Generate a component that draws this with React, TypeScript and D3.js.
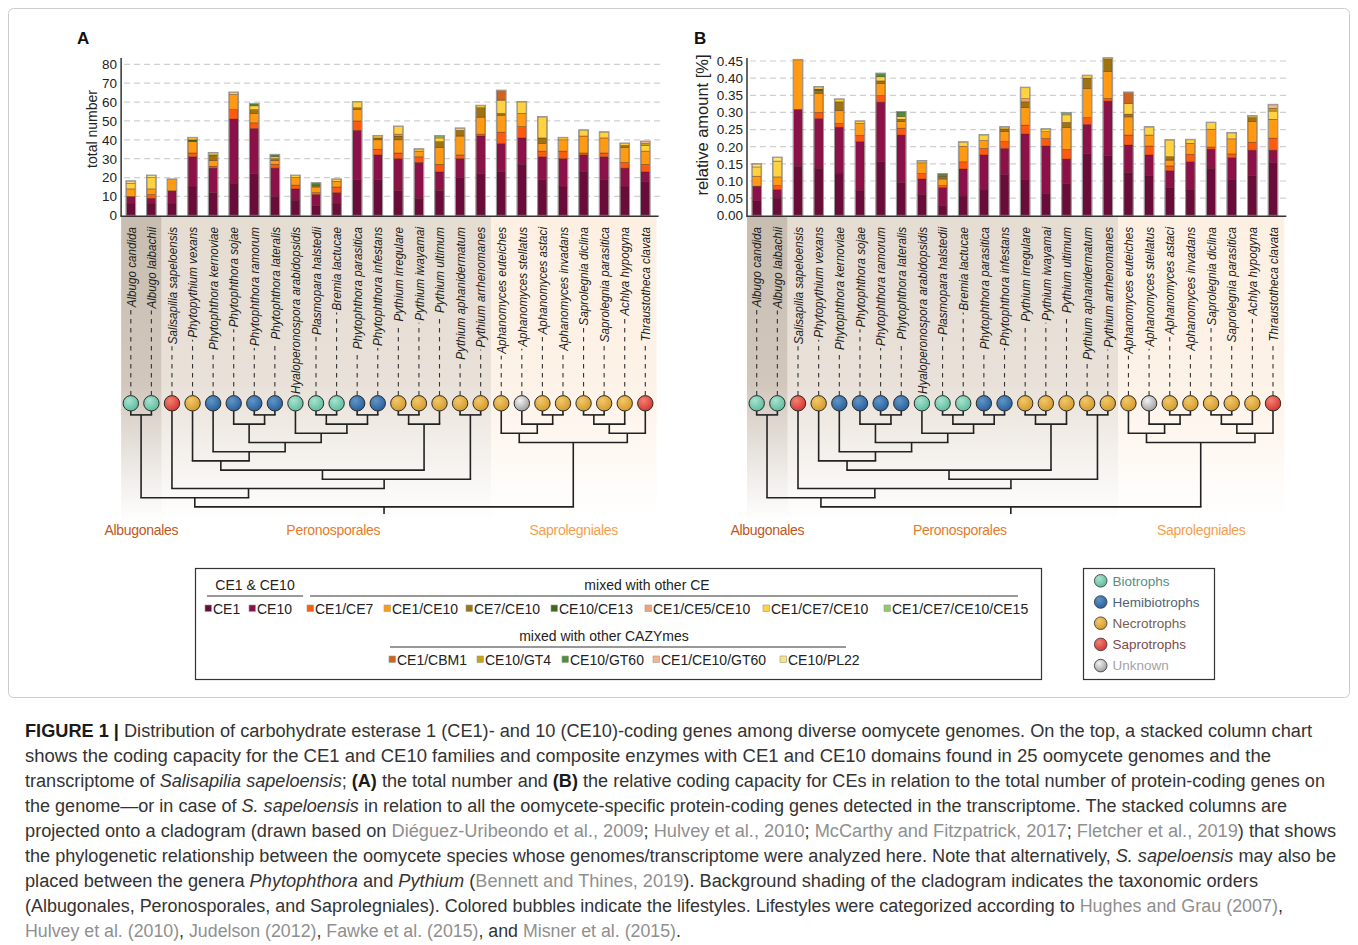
import React, { useEffect, useRef } from "react";
import * as d3 from "d3";

// ---------------- DATA ----------------
const SPECIES = [
  "Albugo candida", "Albugo laibachii", "Salisapilia sapeloensis", "Phytopythium vexans",
  "Phytophthora kernoviae", "Phytophthora sojae", "Phytophthora ramorum", "Phytophthora lateralis",
  "Hyaloperonospora arabidopsidis", "Plasmopara halstedii", "Bremia lactucae", "Phytophthora parasitica",
  "Phytophthora infestans", "Pythium irregulare", "Pythium iwayamai", "Pythium ultimum",
  "Pythium aphanidermatum", "Pythium arrhenomanes", "Aphanomyces euteiches", "Aphanomyces stellatus",
  "Aphanomyces astaci", "Aphanomyces invadans", "Saprolegnia diclina", "Saprolegnia parasitica",
  "Achlya hypogyna", "Thraustotheca clavata",
];
// B biotroph, H hemibiotroph, N necrotroph, S saprotroph, U unknown
const LIFESTYLE = ["B","B","S","N","H","H","H","H","B","B","B","H","H","N","N","N","N","N","N","U","N","N","N","N","N","S"];
const ORDER_NAMES = ["Albugonales", "Peronosporales", "Saprolegniales"];
const ORDER_SIZES = [2, 16, 8];

const KEYS = ["CE1","CE10","CE1/CE7","CE1/CE10","CE7/CE10","CE10/CE13","CE1/CE5/CE10","CE1/CE7/CE10","CE1/CE7/CE10/CE15","CE1/CBM1","CE10/GT4","CE10/GT60","CE1/CE10/GT60","CE10/PL22"];

// Panel A: total number
const A_CE1 = [6,6,6,15,12,17,22,10,8,5,6,19,19,13,9,13,20,22,23,27,19,15,23,19,15,18];
const A_CE10 = [4,3,7,16,13,34,24,15,6,6,6,26,13,17,19,10,10,20,15,14,12,15,9,12,10,5];
const A_CE1_CE7 = [0,2,0,2,1,5,3,2,2,1,3,5,3,3,3,4,2,1,6,6,3,4,1,2,3,4];
const A_CE1_CE10 = [4,3,6,6,3,8,5,2,4,3,3,6,5,7,3,9,10,9,9,7,4,6,9,8,8,7];
const A_CE7_CE10 = [0,0,0,0,3,0,2,1,0,1,0,1,1,2,0,3,3,5,1,0,3,0,0,0,1,0];
const A_CE10_CE13 = [0,0,0,1,0,0,0,0,0,0,0,0,0,0,0,0,0,0,0,0,0,0,0,0,0,0];
const A_CE1_CE5_CE10 = [0,0,0,0,0,0,0,0,0,0,0,0,0,1,0,0,0,0,0,0,0,0,0,0,0,0];
const A_CE1_CE7_CE10 = [3,6,0,1,1,1,2,1,1,0,1,3,1,4,1,2,1,1,7,6,11,1,3,3,1,3];
const A_CE1_CE7_CE10_CE15 = [0,0,0,0,0,0,0,0,0,0,0,0,0,0,0,1,0,0,0,0,0,0,0,0,0,0];
const A_CE1_CBM1 = [0,0,0,0,0,0,0,0,0,0,0,0,0,0,0,0,0,0,5,0,0,0,0,0,0,0];
const A_CE10_GT4 = [0,0,0,0,0,0,0,0,0,0,0,0,0,0,0,0,0,0,0,0,0,0,0,0,0,1];
const A_CE10_GT60 = [0,0,0,0,0,0,1,1,0,1,0,0,0,0,0,0,0,0,0,0,0,0,0,0,0,0];
const A_CE1_CE10_GT60 = [0,0,0,0,0,0,0,0,0,0,0,0,0,0,0,0,0,0,0,0,0,0,0,0,0,1];
const A_CE10_PL22 = [1,1,0,0,0,0,0,0,0,0,0,0,0,0,0,0,0,0,0,0,0,0,0,0,0,0];

// Panel B: relative amount [%]
const B_CE1 = [.042,.050,.143,.137,.123,.071,.156,.095,.061,.029,.056,.076,.118,.105,.064,.093,.180,.174,.124,.115,.080,.074,.137,.105,.115,.153];
const B_CE10 = [.043,.025,.166,.145,.134,.144,.174,.139,.045,.052,.079,.100,.077,.132,.138,.071,.085,.159,.081,.061,.050,.082,.056,.063,.075,.037];
const B_CE1_CE7 = [0,.012,0,.018,.011,.018,.019,.020,.016,.006,.021,.019,.020,.026,.022,.028,.020,.008,.029,.026,.014,.022,.006,.011,.023,.035];
const B_CE1_CE10 = [.029,.025,.144,.056,.037,.035,.035,.019,.031,.019,.045,.023,.029,.051,.020,.064,.085,.078,.053,.032,.017,.032,.052,.044,.060,.055];
const B_CE7_CE10 = [0,0,0,.008,.026,0,.008,.007,0,.007,0,0,.008,.017,0,.015,.030,.036,.008,0,.010,0,0,0,.012,0];
const B_CE10_CE13 = [0,0,0,.004,0,0,0,0,0,0,0,0,0,0,0,0,0,0,0,0,0,0,0,0,0,0];
const B_CE1_CE5_CE10 = [0,0,0,0,0,0,0,0,0,0,0,0,0,.009,0,0,0,0,0,0,0,0,0,0,0,0];
const B_CE1_CE7_CE10 = [.027,.046,0,.006,.007,.006,.012,.008,.005,0,.012,.016,.005,.032,.007,.022,.007,.003,.031,.023,.048,.010,.019,.017,.004,.024];
const B_CE1_CE7_CE10_CE15 = [0,0,0,0,0,0,0,0,0,0,0,0,0,0,0,.005,0,0,0,0,0,0,0,0,0,0];
const B_CE1_CBM1 = [0,0,0,0,0,0,0,0,0,0,0,0,0,0,0,0,0,0,.032,0,0,0,0,0,0,0];
const B_CE10_GT4 = [0,0,0,0,0,0,0,0,0,0,0,0,0,0,0,0,0,0,0,0,0,0,0,0,0,.008];
const B_CE10_GT60 = [0,0,0,0,0,0,.009,.013,0,.007,0,0,0,0,0,0,0,0,0,0,0,0,0,0,0,0];
const B_CE1_CE10_GT60 = [0,0,0,0,0,0,0,0,0,0,0,0,0,0,0,0,0,0,0,0,0,0,0,0,0,.010];
const B_CE10_PL22 = [.008,.010,0,0,0,0,0,0,0,0,0,0,0,0,0,0,0,0,0,0,0,0,0,0,0,0];

const A_TICKS = [0,10,20,30,40,50,60,70,80];
const B_TICKS = [0,0.05,0.10,0.15,0.20,0.25,0.30,0.35,0.40,0.45];

const LEGEND_CE = ["CE1","CE10"];
const LEGEND_MIXED = ["CE1/CE7","CE1/CE10","CE7/CE10","CE10/CE13","CE1/CE5/CE10","CE1/CE7/CE10","CE1/CE7/CE10/CE15"];
const LEGEND_CAZY = ["CE1/CBM1","CE10/GT4","CE10/GT60","CE1/CE10/GT60","CE10/PL22"];
const LIFESTYLE_NAMES = [["B","Biotrophs"],["H","Hemibiotrophs"],["N","Necrotrophs"],["S","Saprotrophs"],["U","Unknown"]];

// cladogram topology (leaf indices, node level, optional fixed position in leaf units)
const TREE: any = { level: 11, children: [
  { level: 10, children: [
    { level: 1, children: [0, 1] },
    { level: 9, at: 5.72, children: [2, { level: 8, at: 12.31, children: [
      { level: 7, children: [
        { level: 6, children: [3, { level: 5, children: [4, { level: 4, children: [
          { level: 2, children: [5, { level: 1, children: [6, 7] }] },
          { level: 3, children: [8, { level: 2, children: [{ level: 1, children: [9, 10] }, { level: 1, children: [11, 12] }] }] },
        ] }] }] },
        { level: 2, children: [{ level: 1, children: [13, 14] }, 15] },
      ] },
      { level: 1, children: [16, 17] },
    ] }] },
  ] },
  { level: 4, children: [
    { level: 3, children: [18, { level: 2, children: [19, { level: 1, children: [20, 21] }] }] },
    { level: 3, children: [{ level: 2, children: [{ level: 1, children: [22, 23] }, 24] }, 25] },
  ] },
] };

const CAPTION: [string, string][][] = [
  [["FIGURE 1 | ","b"],["Distribution of carbohydrate esterase 1 (CE1)- and 10 (CE10)-coding genes among diverse oomycete genomes. On the top, a stacked column chart",""]],
  [["shows the coding capacity for the CE1 and CE10 families and composite enzymes with CE1 and CE10 domains found in 25 oomycete genomes and the",""]],
  [["transcriptome of ",""],["Salisapilia sapeloensis","i"],["; ",""],["(A)","b"],[" the total number and ",""],["(B)","b"],[" the relative coding capacity for CEs in relation to the total number of protein-coding genes on",""]],
  [["the genome\u2014or in case of ",""],["S. sapeloensis","i"],[" in relation to all the oomycete-specific protein-coding genes detected in the transcriptome. The stacked columns are",""]],
  [["projected onto a cladogram (drawn based on ",""],["Di\u00e9guez-Uribeondo et al., 2009","l"],["; ",""],["Hulvey et al., 2010","l"],["; ",""],["McCarthy and Fitzpatrick, 2017","l"],["; ",""],["Fletcher et al., 2019","l"],[") that shows",""]],
  [["the phylogenetic relationship between the oomycete species whose genomes/transcriptome were analyzed here. Note that alternatively, ",""],["S. sapeloensis","i"],[" may also be",""]],
  [["placed between the genera ",""],["Phytophthora","i"],[" and ",""],["Pythium","i"],[" (",""],["Bennett and Thines, 2019","l"],["). Background shading of the cladogram indicates the taxonomic orders",""]],
  [["(Albugonales, Peronosporales, and Saprolegniales). Colored bubbles indicate the lifestyles. Lifestyles were categorized according to ",""],["Hughes and Grau (2007)","l"],[",",""]],
  [["Hulvey et al. (2010)","l"],[", ",""],["Judelson (2012)","l"],[", ",""],["Fawke et al. (2015)","l"],[", and ",""],["Misner et al. (2015)","l"],[".",""]],
];

// ---------------- STYLE ----------------
const COLORS: Record<string, string> = {
  "CE1": "#6a0c3a", "CE10": "#8c1149", "CE1/CE7": "#ff5a0d", "CE1/CE10": "#ff9a12",
  "CE7/CE10": "#9e7410", "CE10/CE13": "#3f6a1c", "CE1/CE5/CE10": "#f2a27a", "CE1/CE7/CE10": "#ffd23f",
  "CE1/CE7/CE10/CE15": "#8fc96a", "CE1/CBM1": "#d2621c", "CE10/GT4": "#c9a30a", "CE10/GT60": "#4f8f35",
  "CE1/CE10/GT60": "#f5b48a", "CE10/PL22": "#fbe37f",
};
const LIFE_COLORS: Record<string, [string, string]> = {
  B: ["#a9e2cf", "#5bbd9e"], H: ["#5f95c8", "#28609a"], N: ["#f2c868", "#d39a2c"],
  S: ["#f4806e", "#d43535"], U: ["#f2f2f2", "#9e9e9e"],
};
const LIFE_TEXT: Record<string, string> = { B: "#5a8b82", H: "#4c6378", N: "#76604c", S: "#7c4b4b", U: "#a3a3a3" };
const ORDER_COLORS = ["#c9bdb1", "#e5dcd2", "#fdf0e3"];
const ORDER_TEXT = ["#c0561e", "#e37b2c", "#f59e4e"];
const SANS = "'Liberation Sans', Arial, Helvetica, sans-serif";
const NARROW = "'Liberation Sans Narrow', 'Liberation Sans', Arial, sans-serif";

function seriesTable(prefix: string) {
  const src: Record<string, number[]> = prefix === "A" ? {
    "CE1": A_CE1, "CE10": A_CE10, "CE1/CE7": A_CE1_CE7, "CE1/CE10": A_CE1_CE10, "CE7/CE10": A_CE7_CE10,
    "CE10/CE13": A_CE10_CE13, "CE1/CE5/CE10": A_CE1_CE5_CE10, "CE1/CE7/CE10": A_CE1_CE7_CE10,
    "CE1/CE7/CE10/CE15": A_CE1_CE7_CE10_CE15, "CE1/CBM1": A_CE1_CBM1, "CE10/GT4": A_CE10_GT4,
    "CE10/GT60": A_CE10_GT60, "CE1/CE10/GT60": A_CE1_CE10_GT60, "CE10/PL22": A_CE10_PL22,
  } : {
    "CE1": B_CE1, "CE10": B_CE10, "CE1/CE7": B_CE1_CE7, "CE1/CE10": B_CE1_CE10, "CE7/CE10": B_CE7_CE10,
    "CE10/CE13": B_CE10_CE13, "CE1/CE5/CE10": B_CE1_CE5_CE10, "CE1/CE7/CE10": B_CE1_CE7_CE10,
    "CE1/CE7/CE10/CE15": B_CE1_CE7_CE10_CE15, "CE1/CBM1": B_CE1_CBM1, "CE10/GT4": B_CE10_GT4,
    "CE10/GT60": B_CE10_GT60, "CE1/CE10/GT60": B_CE1_CE10_GT60, "CE10/PL22": B_CE10_PL22,
  };
  return SPECIES.map((s, i) => {
    const row: any = { species: s };
    KEYS.forEach((k) => (row[k] = src[k][i]));
    return row;
  });
}

function drawPanel(svg: any, cfg: any) {
  const g = svg.append("g");
  const x = d3.scalePoint<string>().domain(SPECIES).range(cfg.leafRange);
  const step = x.step();
  const leafX = (t: number) => (x(SPECIES[0]) as number) + t * step;
  const axisX = leafX(-0.47);
  const rightX = leafX(25.5) + 1;
  const y = cfg.y;
  const axisY = y(0) + 1;

  // order bands
  let start = 0;
  ORDER_NAMES.forEach((name, oi) => {
    const end = start + ORDER_SIZES[oi] - 1;
    const x0 = oi === 0 ? axisX : (leafX(start - 1) + leafX(start)) / 2;
    const x1 = oi === ORDER_NAMES.length - 1 ? rightX : (leafX(end) + leafX(end + 1)) / 2;
    g.append("rect").attr("x", x0).attr("y", axisY).attr("width", x1 - x0).attr("height", 305)
      .attr("fill", `url(#band${oi})`);
    g.append("text").attr("x", (x0 + x1) / 2 + (oi === 1 ? 7 : 0)).attr("y", 535)
      .attr("text-anchor", "middle").attr("font-family", SANS).attr("font-size", 14)
      .attr("letter-spacing", -0.3).attr("fill", ORDER_TEXT[oi]).text(name);
    start = end + 1;
  });

  // grid
  cfg.ticks.forEach((t: number) => {
    if (t === 0) return;
    g.append("line").attr("x1", axisX + 3).attr("x2", rightX + 4).attr("y1", y(t)).attr("y2", y(t))
      .attr("stroke", "#cfcfcf").attr("stroke-width", 1.2).attr("stroke-dasharray", "6,4");
  });

  // bars
  const rows = seriesTable(cfg.prefix);
  const stacked = d3.stack().keys(KEYS)(rows as any);
  const bw = 8.6;
  stacked.forEach((layer: any) => {
    layer.forEach((d: any, i: number) => {
      const h = y(d[0]) - y(d[1]);
      if (h <= 0.01) return;
      g.append("rect").attr("x", (x(SPECIES[i]) as number) - bw / 2).attr("y", y(d[1]))
        .attr("width", bw).attr("height", h).attr("fill", COLORS[layer.key])
        .attr("stroke", "rgba(70,30,20,0.55)").attr("stroke-width", 0.6);
    });
  });
  rows.forEach((r: any, i: number) => {
    const tot = d3.sum(KEYS, (k) => r[k]);
    g.append("rect").attr("x", (x(SPECIES[i]) as number) - bw / 2 - 0.6).attr("y", y(tot) - 0.6)
      .attr("width", bw + 1.2).attr("height", y(0) - y(tot) + 0.6).attr("fill", "none")
      .attr("stroke", "#8f8f8f").attr("stroke-width", 0.9);
  });

  // axes
  g.append("line").attr("x1", axisX).attr("x2", axisX).attr("y1", 58).attr("y2", axisY)
    .attr("stroke", "#333").attr("stroke-width", 1.5);
  g.append("line").attr("x1", axisX - 0.75).attr("x2", rightX + 2).attr("y1", axisY).attr("y2", axisY)
    .attr("stroke", "#333").attr("stroke-width", 1.5);
  cfg.ticks.forEach((t: number) => {
    g.append("text").attr("x", axisX - 4).attr("y", y(t)).attr("dy", "0.36em")
      .attr("text-anchor", "end").attr("font-family", SANS).attr("font-size", 13.5).attr("fill", "#222")
      .text(cfg.fmt(t));
  });
  g.append("text").attr("transform", `translate(${cfg.ylabelX},${cfg.ylabelY}) rotate(-90)`)
    .attr("dy", "0.35em").attr("text-anchor", "middle").attr("font-family", SANS)
    .attr("font-size", cfg.ylabelSize).attr("fill", "#222").text(cfg.ylabel);
  g.append("text").attr("x", cfg.letterX).attr("y", 44).attr("font-family", SANS)
    .attr("font-weight", "bold").attr("font-size", 17).attr("fill", "#111").text(cfg.letter);

  // cladogram
  const circleY = 403.3;
  const r = 7.7;
  const levelY = (k: number) => 405.7 + 9.2 * k;
  const lineCol = "#222";
  function layout(node: any): [number, number] {
    if (typeof node === "number") return [leafX(node), circleY + r];
    const kids = node.children.map(layout);
    const xs = kids.map((k: [number, number]) => k[0]);
    const ny = levelY(node.level);
    const nx = node.at != null ? leafX(node.at) : d3.mean(xs) as number;
    kids.forEach(([kx, ky]: [number, number]) => {
      g.append("line").attr("x1", kx).attr("x2", kx).attr("y1", ky).attr("y2", ny)
        .attr("stroke", lineCol).attr("stroke-width", 1.6);
    });
    g.append("line").attr("x1", d3.min(xs) as number - 0.8).attr("x2", d3.max(xs) as number + 0.8)
      .attr("y1", ny).attr("y2", ny).attr("stroke", lineCol).attr("stroke-width", 1.6);
    return [nx, ny];
  }
  const [rx, ry] = layout(TREE);
  g.append("line").attr("x1", rx).attr("x2", rx).attr("y1", ry).attr("y2", ry + 7)
    .attr("stroke", lineCol).attr("stroke-width", 1.6);

  // species labels + connectors
  const labelTop = 227;
  const labels = SPECIES.map((s) =>
    g.append("text").attr("transform", `translate(${x(s)},${labelTop}) rotate(-90)`)
      .attr("dy", "0.35em").attr("text-anchor", "end").attr("font-family", NARROW)
      .attr("font-style", "italic").attr("font-size", 13.5).attr("fill", "#1a1a1a").text(s)
  );
  const lens = labels.map((t) => (t.node() as SVGTextElement).getComputedTextLength());
  const factor = 167 / lens[8];
  labels.forEach((t, i) => {
    const L = lens[i] * factor;
    t.attr("textLength", L).attr("lengthAdjust", "spacingAndGlyphs");
    const x0 = x(SPECIES[i]) as number;
    const yEnd = labelTop + L + 2;
    if (circleY - r - yEnd > 1) {
      g.append("line").attr("x1", x0).attr("x2", x0).attr("y1", circleY - r).attr("y2", yEnd)
        .attr("stroke", "#333").attr("stroke-width", 1.1).attr("stroke-dasharray", "4.5,4.5");
    }
  });

  // bubbles
  SPECIES.forEach((s, i) => {
    g.append("circle").attr("cx", x(s) as number).attr("cy", circleY).attr("r", r)
      .attr("fill", `url(#life${LIFESTYLE[i]})`).attr("stroke", "#2a2a2a").attr("stroke-width", 1);
  });
}

function draw(node: SVGSVGElement) {
  const svg = d3.select(node);
  svg.selectAll("*").remove();
  const defs = svg.append("defs");
  Object.entries(LIFE_COLORS).forEach(([k, [hi, base]]) => {
    const rg = defs.append("radialGradient").attr("id", `life${k}`).attr("cx", "38%").attr("cy", "32%").attr("r", "70%");
    rg.append("stop").attr("offset", "0%").attr("stop-color", hi);
    rg.append("stop").attr("offset", "100%").attr("stop-color", base);
  });
  ORDER_COLORS.forEach((c, i) => {
    const lg = defs.append("linearGradient").attr("id", `band${i}`).attr("x1", 0).attr("x2", 0).attr("y1", 0).attr("y2", 1);
    lg.append("stop").attr("offset", "0%").attr("stop-color", c).attr("stop-opacity", 1);
    lg.append("stop").attr("offset", "55%").attr("stop-color", c).attr("stop-opacity", 0.85);
    lg.append("stop").attr("offset", "100%").attr("stop-color", c).attr("stop-opacity", 0);
  });

  svg.append("rect").attr("x", 8.5).attr("y", 8.5).attr("width", 1341).attr("height", 689).attr("rx", 5)
    .attr("fill", "#fff").attr("stroke", "#cccccc").attr("stroke-width", 1);

  drawPanel(svg, {
    prefix: "A", letter: "A", letterX: 77, leafRange: [130.8, 645.3],
    y: d3.scaleLinear().domain([0, 80]).range([215.3, 64.3]), ticks: A_TICKS, fmt: d3.format("d"),
    ylabel: "total number", ylabelX: 92, ylabelY: 129, ylabelSize: 14,
  });
  drawPanel(svg, {
    prefix: "B", letter: "B", letterX: 694, leafRange: [756.7, 1273],
    y: d3.scaleLinear().domain([0, 0.45]).range([215.3, 61]), ticks: B_TICKS, fmt: d3.format(".2f"),
    ylabel: "relative amount [%]", ylabelX: 702, ylabelY: 125, ylabelSize: 16.5,
  });

  // legend 1
  const lg = svg.append("g").attr("font-family", SANS).attr("font-size", 14).attr("fill", "#222");
  lg.append("rect").attr("x", 195.5).attr("y", 568.5).attr("width", 846).attr("height", 111)
    .attr("fill", "none").attr("stroke", "#333").attr("stroke-width", 1.2);
  const header = (txt: string, cx: number, yy: number, x0: number, x1: number) => {
    lg.append("text").attr("x", cx).attr("y", yy).attr("text-anchor", "middle").text(txt);
    lg.append("line").attr("x1", x0).attr("x2", x1).attr("y1", yy + 6).attr("y2", yy + 6)
      .attr("stroke", "#333").attr("stroke-width", 1.1);
  };
  header("CE1 & CE10", 255, 590, 207, 303);
  header("mixed with other CE", 647, 590, 310, 1018);
  header("mixed with other CAZYmes", 604, 641, 390, 846);
  const item = (key: string, x0: number, yy: number) => {
    lg.append("rect").attr("x", x0).attr("y", yy - 9).attr("width", 6.5).attr("height", 6.5)
      .attr("fill", COLORS[key]).attr("stroke", "#999").attr("stroke-width", 0.6);
    lg.append("text").attr("x", x0 + 8).attr("y", yy).text(key);
  };
  const row1 = [...LEGEND_CE, ...LEGEND_MIXED];
  const row1X = [205, 249, 307, 384, 466, 551, 645, 763, 884];
  row1.forEach((k, i) => item(k, row1X[i], 614));
  const row2X = [389, 477, 562, 653, 780];
  LEGEND_CAZY.forEach((k, i) => item(k, row2X[i], 665));

  // legend 2
  const lg2 = svg.append("g").attr("font-family", SANS).attr("font-size", 13.5);
  lg2.append("rect").attr("x", 1083.5).attr("y", 568.5).attr("width", 131).attr("height", 111)
    .attr("fill", "none").attr("stroke", "#333").attr("stroke-width", 1.2);
  LIFESTYLE_NAMES.forEach(([k, name], i) => {
    const yy = 580.8 + i * 21.2;
    lg2.append("circle").attr("cx", 1100.7).attr("cy", yy).attr("r", 6.3)
      .attr("fill", `url(#life${k})`).attr("stroke", "#444").attr("stroke-width", 0.9);
    lg2.append("text").attr("x", 1112.5).attr("y", yy).attr("dy", "0.36em").attr("fill", LIFE_TEXT[k]).text(name);
  });

  // caption
  const CAP_END = [1312, 1271, 1325, 1287, 1336, 1336, 1258, 1283, 681];
  const cg = svg.append("g").attr("font-family", NARROW).attr("font-size", 18).attr("fill", "#333");
  CAPTION.forEach((line, li) => {
    const t = cg.append("text").attr("x", 25).attr("y", 737 + li * 25)
      .attr("textLength", CAP_END[li] - 25).attr("lengthAdjust", "spacingAndGlyphs");
    line.forEach(([txt, st]) => {
      const ts = t.append("tspan").text(txt);
      if (st === "b") ts.attr("font-weight", "bold").attr("fill", "#1a1a1a");
      if (st === "i") ts.attr("font-style", "italic");
      if (st === "l") ts.attr("fill", "#8f8f8f");
    });
  });
}

export default function App() {
  const ref = useRef<SVGSVGElement>(null);
  useEffect(() => {
    if (ref.current) draw(ref.current);
  }, []);
  return (
    <svg ref={ref} width={1358} height={945}
      style={{ position: "absolute", left: 0, top: 0, background: "#fff", display: "block" }} />
  );
}
